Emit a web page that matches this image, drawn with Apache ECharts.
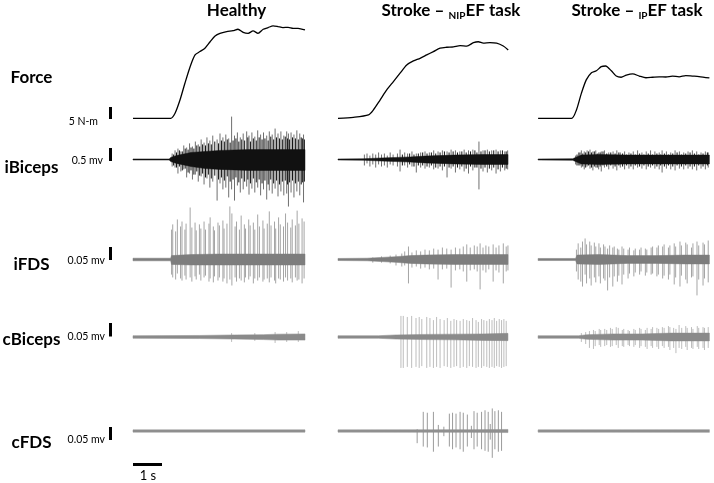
<!DOCTYPE html>
<html><head><meta charset="utf-8">
<script src="https://cdn.jsdelivr.net/npm/echarts@6/dist/echarts.min.js"></script>
<style>html,body{margin:0;padding:0;background:#fff}#c{width:714px;height:483px}</style>
</head><body><div id="c"></div>
<script>
// ---------- DATA (time in s, force in N-m, EMG in mV) ----------
const columns = ["Healthy", "Stroke – NIPEF task", "Stroke – IPEF task"];
const rowNames = ["Force", "iBiceps", "iFDS", "cBiceps", "cFDS"];
const scaleLabels = ["5 N-m", "0.5 mv", "0.05 mv", "0.05 mv", "0.05 mv"];
const timeBarLabel = "1 s";

// Force traces [t, N-m]
const forceHealthy = [[0,0],[1.3,0],[1.45,2.1],[1.62,7.6],[1.79,14.6],[1.97,21.5],[2.14,26.4],[2.31,27.8],[2.48,29.2],[2.66,31.9],[2.83,34.3],[3.0,35.4],[3.23,36.1],[3.45,36.5],[3.62,37.1],[3.8,35.8],[3.97,35.4],[4.14,36.4],[4.31,35.4],[4.49,37.1],[4.66,37.8],[4.83,38.5],[5.0,38.2],[5.17,37.8],[5.35,37.9],[5.52,37.5],[5.69,37.5],[5.93,36.8]];
const forceNIP = [[0,0],[0.53,0.4],[1.05,1.4],[1.22,3.5],[1.45,7.6],[1.68,11.8],[1.91,15.3],[2.14,18.8],[2.37,22.2],[2.6,23.9],[2.83,25.0],[3.06,26.4],[3.29,27.8],[3.52,29.2],[3.75,29.6],[3.98,29.8],[4.21,30.3],[4.44,30.1],[4.67,31.5],[4.84,31.9],[5.01,31.3],[5.24,31.5],[5.47,31.3],[5.7,30.1],[5.87,28.5]];
const forceIP = [[-0.1,0],[1.06,0],[1.23,3.5],[1.4,10.4],[1.57,16.0],[1.75,19.0],[1.92,19.8],[2.09,21.5],[2.24,21.8],[2.44,19.8],[2.61,17.6],[2.78,17.1],[2.96,18.0],[3.18,18.5],[3.41,17.6],[3.64,16.9],[3.87,17.1],[4.1,17.3],[4.33,17.2],[4.56,17.6],[4.79,17.3],[5.02,17.8],[5.25,17.6],[5.48,17.4],[5.84,16.8]];

// EMG dense-core envelopes [t, up, down] (mV)
const iBicHealthyCore = [[0,0.02,0.02],[1.25,0.02,0.02],[1.3,0.08,0.08],[1.5,0.15,0.15],[2.0,0.27,0.27],[2.5,0.31,0.35],[3.0,0.35,0.38],[4.0,0.38,0.42],[5.93,0.38,0.42]];
const iBicNIPCore = [[0,0.02,0.02],[0.9,0.03,0.03],[1.5,0.06,0.06],[2.0,0.08,0.08],[2.5,0.1,0.1],[3.0,0.13,0.13],[3.5,0.15,0.15],[4.0,0.17,0.17],[5.0,0.19,0.19],[5.86,0.19,0.19]];
const iBicIPCore = [[-0.1,0.02,0.02],[1.1,0.03,0.03],[1.2,0.08,0.08],[1.4,0.17,0.17],[2.0,0.19,0.19],[3.0,0.17,0.17],[4.0,0.17,0.17],[5.0,0.17,0.17],[5.84,0.17,0.17]];
const iFDSHealthyCore = [[0,0.005,0.005],[1.3,0.005,0.005],[1.33,0.015,0.019],[2.0,0.019,0.021],[3.0,0.021,0.021],[5.93,0.021,0.021]];
const iFDSNIPCore = [[0,0.004,0.004],[1.0,0.005,0.005],[1.5,0.008,0.008],[2.0,0.011,0.011],[2.5,0.015,0.015],[3.0,0.017,0.017],[4.0,0.019,0.019],[5.86,0.019,0.019]];
const iFDSIPCore = [[-0.1,0.004,0.004],[1.2,0.004,0.004],[1.25,0.017,0.017],[2.0,0.019,0.019],[3.0,0.015,0.015],[4.0,0.015,0.015],[5.0,0.017,0.017],[5.84,0.017,0.017]];
const cBicHealthyCore = [[0,0.005,0.005],[2.3,0.006,0.006],[3.5,0.008,0.008],[4.5,0.009,0.01],[5.0,0.011,0.012],[5.93,0.012,0.012]];
const cBicNIPCore = [[0,0.005,0.005],[1.4,0.005,0.005],[2.0,0.008,0.008],[3.0,0.01,0.01],[4.0,0.011,0.011],[5.0,0.012,0.013],[5.86,0.014,0.014]];
const cBicIPCore = [[-0.1,0.005,0.005],[1.3,0.005,0.005],[1.6,0.009,0.009],[2.5,0.012,0.012],[3.5,0.012,0.012],[4.5,0.015,0.015],[5.84,0.015,0.015]];
const cFDSHealthyCore = [[0,0.005,0.005],[5.93,0.005,0.005]];
const cFDSNIPCore = [[0,0.005,0.005],[4.5,0.006,0.006],[5.86,0.007,0.007]];
const cFDSIPCore = [[-0.1,0.005,0.005],[5.84,0.006,0.006]];

// EMG spikes [t, peak up, peak down] (mV)
const iBicHealthySpikes = [[1.35,0.23,0.27],[1.45,0.35,0.31],[1.55,0.42,0.54],[1.65,0.31,0.46],[1.75,0.54,0.38],[1.85,0.46,0.69],[1.95,0.62,0.54],[2.05,0.5,0.77],[2.15,0.69,0.58],[2.25,0.58,0.85],[2.35,0.77,0.65],[2.45,0.65,0.96],[2.55,0.85,0.73],[2.65,0.73,1.08],[2.75,0.92,0.85],[2.9,0.77,1.58],[3.0,1.0,0.92],[3.1,0.85,1.15],[3.2,0.96,1.08],[3.3,0.81,1.46],[3.4,1.65,1.15],[3.5,0.92,1.58],[3.6,1.04,1.0],[3.7,0.85,1.27],[3.8,1.0,1.15],[3.92,1.08,1.04],[4.0,0.92,1.35],[4.1,1.04,1.12],[4.2,0.88,1.27],[4.3,1.12,1.08],[4.4,0.96,1.38],[4.5,1.04,1.15],[4.61,0.92,1.54],[4.7,1.08,1.19],[4.8,0.96,1.31],[4.9,1.19,1.12],[5.0,1.0,1.42],[5.1,1.08,1.23],[5.2,0.92,1.38],[5.3,1.08,1.31],[5.36,1.0,1.81],[5.45,1.04,1.27],[5.55,0.96,1.46],[5.65,1.12,1.23],[5.75,1.0,1.38],[5.88,0.96,1.65]];
const iBicHealthyTexture = [[1.4,0.19,0.23],[1.5,0.27,0.31],[1.6,0.35,0.27],[1.7,0.31,0.42],[1.8,0.42,0.35],[1.9,0.38,0.5],[2.0,0.46,0.42],[2.1,0.42,0.58],[2.2,0.54,0.46],[2.3,0.5,0.62],[2.4,0.58,0.54],[2.5,0.54,0.69],[2.6,0.62,0.58],[2.7,0.58,0.73],[2.82,0.69,0.62],[2.95,0.62,0.77],[3.05,0.73,0.69],[3.15,0.69,0.81],[3.25,0.77,0.65],[3.35,0.65,0.85],[3.45,0.73,0.77],[3.55,0.81,0.69],[3.65,0.69,0.88],[3.75,0.77,0.73],[3.85,0.73,0.85],[3.96,0.85,0.77],[4.05,0.69,0.92],[4.15,0.81,0.73],[4.25,0.73,0.88],[4.35,0.85,0.77],[4.45,0.77,0.92],[4.55,0.81,0.81],[4.66,0.73,0.96],[4.75,0.88,0.77],[4.85,0.77,0.92],[4.95,0.85,0.81],[5.05,0.81,0.96],[5.15,0.77,0.85],[5.25,0.88,0.81],[5.33,0.81,0.96],[5.4,0.77,0.88],[5.5,0.85,0.81],[5.6,0.81,0.92],[5.7,0.77,0.85],[5.8,0.85,0.96],[5.84,0.81,0.88],[5.91,0.77,0.85]];
const iBicNIPSpikes = [[0.91,0.19,0.23],[1.0,0.23,0.15],[1.1,0.15,0.27],[1.2,0.23,0.19],[1.3,0.19,0.31],[1.4,0.27,0.19],[1.5,0.19,0.27],[1.6,0.23,0.23],[1.7,0.15,0.31],[1.8,0.27,0.19],[1.9,0.19,0.23],[2.05,0.23,0.27],[2.14,0.38,0.46],[2.3,0.27,0.23],[2.4,0.23,0.31],[2.55,0.31,0.27],[2.7,0.23,0.5],[2.85,0.27,0.31],[3.0,0.31,0.35],[3.15,0.27,0.31],[3.3,0.35,0.38],[3.45,0.31,0.35],[3.6,0.35,0.42],[3.76,0.31,0.69],[3.9,0.38,0.35],[4.05,0.35,0.5],[4.2,0.31,0.38],[4.35,0.38,0.46],[4.5,0.35,0.54],[4.65,0.38,0.42],[4.86,0.69,1.15],[5.0,0.35,0.46],[5.15,0.38,0.5],[5.3,0.35,0.42],[5.45,0.38,0.54],[5.6,0.35,0.46],[5.75,0.31,0.42],[5.85,0.35,0.38]];
const iBicNIPTexture = [[2.22,0.19,0.23],[2.47,0.23,0.19],[2.62,0.19,0.27],[2.77,0.23,0.23],[2.92,0.27,0.23],[3.07,0.23,0.27],[3.22,0.27,0.23],[3.37,0.23,0.31],[3.52,0.27,0.27],[3.67,0.31,0.27],[3.83,0.27,0.31],[3.97,0.31,0.27],[4.12,0.27,0.31],[4.27,0.31,0.27],[4.42,0.27,0.35],[4.57,0.31,0.27],[4.72,0.35,0.31],[4.79,0.27,0.31],[4.93,0.31,0.35],[5.07,0.35,0.31],[5.22,0.31,0.35],[5.37,0.35,0.31],[5.52,0.31,0.38],[5.67,0.35,0.31],[5.8,0.31,0.35]];
const iBicIPSpikes = [[1.2,0.15,0.19],[1.3,0.27,0.23],[1.4,0.35,0.31],[1.5,0.31,0.38],[1.6,0.35,0.27],[1.7,0.38,0.35],[1.8,0.31,0.42],[1.9,0.35,0.31],[2.0,0.27,0.38],[2.09,0.31,0.46],[2.2,0.35,0.31],[2.35,0.27,0.38],[2.5,0.31,0.35],[2.63,0.35,0.42],[2.75,0.27,0.31],[2.9,0.31,0.38],[3.05,0.27,0.35],[3.2,0.31,0.38],[3.35,0.35,0.31],[3.5,0.27,0.35],[3.65,0.31,0.38],[3.8,0.35,0.31],[3.95,0.31,0.35],[4.1,0.27,0.38],[4.2,0.35,0.5],[4.35,0.31,0.35],[4.5,0.27,0.38],[4.65,0.35,0.42],[4.8,0.31,0.35],[4.95,0.27,0.38],[5.1,0.31,0.35],[5.25,0.35,0.38],[5.4,0.31,0.42],[5.55,0.27,0.35],[5.7,0.31,0.38],[5.8,0.27,0.31]];
const iBicIPTexture = [[1.25,0.19,0.23],[1.35,0.27,0.23],[1.45,0.23,0.27],[1.55,0.27,0.31],[1.65,0.31,0.23],[1.75,0.27,0.31],[1.85,0.31,0.27],[1.95,0.23,0.31],[2.05,0.27,0.27],[2.15,0.31,0.23],[2.28,0.23,0.27],[2.42,0.27,0.23],[2.57,0.23,0.27],[2.7,0.27,0.23],[2.83,0.23,0.27],[2.97,0.19,0.23],[3.12,0.23,0.27],[3.27,0.19,0.23],[3.42,0.23,0.27],[3.57,0.19,0.23],[3.72,0.23,0.27],[3.87,0.19,0.23],[4.02,0.23,0.27],[4.15,0.19,0.23],[4.28,0.23,0.27],[4.42,0.19,0.23],[4.57,0.23,0.27],[4.72,0.27,0.23],[4.87,0.19,0.27],[5.02,0.23,0.23],[5.17,0.27,0.27],[5.32,0.23,0.27],[5.47,0.19,0.23],[5.62,0.23,0.27],[5.77,0.27,0.23]];
const iFDSHealthySpikes = [[1.33,0.115,0.058],[1.37,0.135,0.069],[1.47,0.108,0.077],[1.53,0.154,0.054],[1.64,0.127,0.073],[1.69,0.146,0.081],[1.79,0.115,0.062],[1.83,0.138,0.077],[1.97,0.2,0.069],[2.03,0.123,0.085],[2.14,0.142,0.065],[2.18,0.112,0.077],[2.29,0.135,0.058],[2.34,0.119,0.081],[2.45,0.146,0.069],[2.5,0.115,0.062],[2.62,0.138,0.085],[2.66,0.162,0.073],[2.77,0.127,0.088],[2.81,0.112,0.065],[2.93,0.142,0.081],[2.98,0.131,0.069],[3.1,0.15,0.085],[3.14,0.119,0.073],[3.24,0.138,0.092],[3.34,0.204,0.077],[3.41,0.177,0.1],[3.52,0.127,0.069],[3.57,0.146,0.085],[3.67,0.115,0.073],[3.73,0.169,0.081],[3.84,0.135,0.088],[3.88,0.119,0.069],[3.99,0.154,0.077],[4.04,0.131,0.065],[4.15,0.142,0.092],[4.2,0.115,0.073],[4.3,0.173,0.081],[4.36,0.127,0.069],[4.48,0.15,0.085],[4.52,0.119,0.077],[4.63,0.138,0.073],[4.7,0.185,0.088],[4.76,0.131,0.069],[4.88,0.146,0.081],[4.92,0.119,0.092],[5.02,0.162,0.073],[5.08,0.135,0.077],[5.19,0.127,0.085],[5.26,0.177,0.069],[5.33,0.142,0.081],[5.44,0.123,0.073],[5.49,0.154,0.088],[5.6,0.131,0.069],[5.66,0.188,0.081],[5.72,0.138,0.077],[5.83,0.158,0.092],[5.9,0.146,0.073]];
const iFDSNIPSpikes = [[1.2,0.008,0.012],[1.5,0.012,0.012],[1.8,0.015,0.015],[2.0,0.019,0.023],[2.2,0.023,0.027],[2.3,0.031,0.023],[2.43,0.05,0.092],[2.55,0.027,0.031],[2.7,0.035,0.027],[2.85,0.031,0.035],[3.0,0.038,0.031],[3.15,0.035,0.038],[3.3,0.042,0.035],[3.45,0.038,0.077],[3.6,0.046,0.038],[3.75,0.042,0.035],[3.9,0.038,0.108],[4.05,0.046,0.042],[4.2,0.042,0.038],[4.32,0.05,0.046],[4.44,0.058,0.085],[4.56,0.046,0.042],[4.7,0.054,0.038],[4.8,0.05,0.046],[4.9,0.062,0.115],[5.0,0.046,0.042],[5.1,0.054,0.05],[5.2,0.05,0.038],[5.35,0.058,0.085],[5.45,0.046,0.042],[5.55,0.054,0.05],[5.7,0.062,0.092],[5.8,0.05,0.046],[5.86,0.054,0.042]];
const iFDSIPSpikes = [[1.23,0.038,0.046],[1.29,0.062,0.077],[1.38,0.046,0.085],[1.44,0.069,0.104],[1.53,0.081,0.058],[1.58,0.058,0.092],[1.69,0.069,0.073],[1.74,0.054,0.1],[1.85,0.065,0.069],[1.9,0.05,0.088],[2.01,0.062,0.065],[2.06,0.046,0.092],[2.17,0.058,0.073],[2.22,0.05,0.081],[2.31,0.042,0.119],[2.38,0.054,0.069],[2.49,0.046,0.104],[2.54,0.05,0.065],[2.65,0.042,0.085],[2.7,0.038,0.062],[2.81,0.05,0.096],[2.87,0.042,0.058],[3.02,0.038,0.073],[3.07,0.046,0.054],[3.22,0.035,0.065],[3.27,0.042,0.05],[3.42,0.038,0.058],[3.47,0.046,0.046],[3.62,0.042,0.062],[3.67,0.038,0.05],[3.82,0.046,0.058],[3.87,0.05,0.054],[4.02,0.046,0.065],[4.07,0.054,0.058],[4.22,0.05,0.073],[4.27,0.058,0.062],[4.42,0.046,0.077],[4.47,0.054,0.058],[4.62,0.062,0.096],[4.67,0.05,0.069],[4.82,0.069,0.104],[4.87,0.054,0.062],[5.02,0.065,0.077],[5.07,0.058,0.092],[5.22,0.046,0.069],[5.27,0.062,0.065],[5.41,0.069,0.138],[5.47,0.054,0.077],[5.62,0.065,0.1],[5.67,0.058,0.073],[5.8,0.073,0.088]];
const cBicHealthySpikes = [[3.4,0.015,0.019],[4.2,0.015,0.015],[4.9,0.019,0.023],[5.3,0.019,0.019],[5.7,0.023,0.019]];
const cBicNIPSpikes = [[2.17,0.081,0.119],[2.25,0.081,0.119],[2.39,0.077,0.115],[2.54,0.081,0.119],[2.69,0.073,0.115],[2.8,0.077,0.119],[2.89,0.069,0.112],[3.06,0.077,0.119],[3.17,0.073,0.115],[3.29,0.065,0.119],[3.4,0.077,0.115],[3.52,0.069,0.119],[3.66,0.065,0.112],[3.77,0.073,0.115],[3.89,0.062,0.119],[4.0,0.069,0.115],[4.09,0.065,0.112],[4.21,0.062,0.119],[4.32,0.069,0.115],[4.44,0.065,0.119],[4.53,0.062,0.112],[4.64,0.073,0.115],[4.76,0.065,0.119],[4.84,0.058,0.115],[4.95,0.069,0.119],[5.03,0.065,0.112],[5.13,0.062,0.115],[5.22,0.069,0.119],[5.31,0.065,0.115],[5.39,0.073,0.119],[5.47,0.062,0.112],[5.56,0.069,0.115],[5.64,0.065,0.119],[5.72,0.069,0.115],[5.8,0.062,0.112]];
const cBicIPSpikes = [[1.4,0.015,0.019],[1.55,0.019,0.027],[1.68,0.023,0.042],[1.82,0.027,0.046],[1.88,0.023,0.035],[2.02,0.031,0.031],[2.07,0.027,0.038],[2.21,0.031,0.035],[2.28,0.027,0.031],[2.41,0.035,0.038],[2.47,0.031,0.035],[2.61,0.038,0.031],[2.68,0.035,0.042],[2.82,0.027,0.035],[2.87,0.031,0.038],[3.02,0.027,0.031],[3.07,0.023,0.035],[3.22,0.031,0.038],[3.27,0.027,0.031],[3.42,0.035,0.042],[3.47,0.031,0.035],[3.62,0.027,0.038],[3.68,0.035,0.046],[3.82,0.031,0.035],[3.87,0.038,0.042],[4.02,0.035,0.038],[4.08,0.031,0.046],[4.21,0.038,0.035],[4.27,0.035,0.042],[4.42,0.042,0.038],[4.47,0.038,0.05],[4.6,0.035,0.042],[4.68,0.031,0.062],[4.79,0.046,0.042],[4.88,0.035,0.046],[5.02,0.042,0.038],[5.07,0.035,0.05],[5.22,0.038,0.042],[5.27,0.031,0.046],[5.42,0.042,0.038],[5.47,0.035,0.046],[5.62,0.038,0.042],[5.67,0.035,0.05],[5.8,0.038,0.042]];
const cFDSHealthySpikes = [];
const cFDSNIPSpikes = [[2.73,0.008,0.054],[2.94,0.085,0.069],[3.08,0.081,0.073],[3.29,0.085,0.092],[3.46,0.027,0.069],[3.65,0.019,0.023],[3.84,0.077,0.069],[3.95,0.081,0.081],[4.07,0.077,0.073],[4.21,0.085,0.081],[4.32,0.081,0.092],[4.46,0.073,0.069],[4.6,0.023,0.031],[4.69,0.088,0.081],[4.8,0.081,0.069],[4.95,0.085,0.081],[5.07,0.092,0.088],[5.18,0.085,0.092],[5.25,0.031,0.038],[5.32,0.1,0.119],[5.41,0.088,0.081],[5.53,0.092,0.092],[5.64,0.085,0.088]];
const cFDSIPSpikes = [];

// ---------- LAYOUT / STYLE ----------
const PX_PER_S = 29;
const colOrigin = [133, 338, 541];
const colMin = [0, 0, -0.1];
const colMax = 6;
const forceTop = 22.3, forceH = 96, forceMax = 40;      // 2.4 px per N-m
const emgCenter = [159.5, 259.5, 337, 439];
const emgPxPerMv = [26, 260, 260, 260];
const emgHalf = 60;
const emgStyle = [
  {core: '#111111', spike: 'rgba(95,95,95,0.9)', tex: '#151515'},
  {core: '#7d7d7d', spike: 'rgba(160,160,160,0.95)', tex: '#888888'},
  {core: '#8a8a8a', spike: 'rgba(185,185,185,0.95)', tex: '#8a8a8a'},
  {core: '#8f8f8f', spike: 'rgba(150,150,150,0.95)', tex: '#8f8f8f'}
];
const forceData = [forceHealthy, forceNIP, forceIP];
const coreData = [
  [iBicHealthyCore, iFDSHealthyCore, cBicHealthyCore, cFDSHealthyCore],
  [iBicNIPCore, iFDSNIPCore, cBicNIPCore, cFDSNIPCore],
  [iBicIPCore, iFDSIPCore, cBicIPCore, cFDSIPCore]
];
const spikeData = [
  [iBicHealthySpikes, iFDSHealthySpikes, cBicHealthySpikes, cFDSHealthySpikes],
  [iBicNIPSpikes, iFDSNIPSpikes, cBicNIPSpikes, cFDSNIPSpikes],
  [iBicIPSpikes, iFDSIPSpikes, cBicIPSpikes, cFDSIPSpikes]
];
const textureData = [
  [iBicHealthyTexture, [], [], []],
  [iBicNIPTexture, [], [], []],
  [iBicIPTexture, [], [], []]
];

function spikeSeries(g, data, color, width) {
  return {type: 'custom', xAxisIndex: g, yAxisIndex: g, data: data, silent: true,
    encode: {x: 0, y: 1},
    renderItem: function (params, api) {
      const t = api.value(0);
      const a = api.coord([t, api.value(1)]);
      const b = api.coord([t, -api.value(2)]);
      return {type: 'line', shape: {x1: a[0], y1: a[1], x2: b[0], y2: b[1]},
        style: {stroke: color, lineWidth: width}};
    }};
}
function bandSeries(g, core, color) {
  return {type: 'custom', xAxisIndex: g, yAxisIndex: g, data: core, silent: true,
    encode: {x: 0, y: 1},
    renderItem: function (params, api) {
      if (params.dataIndex !== 0) return null;
      const pts = [];
      core.forEach(d => pts.push(api.coord([d[0], d[1]])));
      for (let i = core.length - 1; i >= 0; i--) pts.push(api.coord([core[i][0], -core[i][2]]));
      return {type: 'polygon', shape: {points: pts}, style: {fill: color, stroke: color, lineWidth: 0.5}};
    }};
}

const grid = [], xAxis = [], yAxis = [], series = [];
for (let c = 0; c < 3; c++) {
  const left = colOrigin[c] + colMin[c] * PX_PER_S;
  const width = (colMax - colMin[c]) * PX_PER_S;
  for (let r = 0; r < 5; r++) {
    const g = grid.length;
    let top, height, ymin, ymax;
    if (r === 0) { top = forceTop; height = forceH; ymin = 0; ymax = forceMax; }
    else {
      top = emgCenter[r-1] - emgHalf; height = 2 * emgHalf;
      ymax = emgHalf / emgPxPerMv[r-1]; ymin = -ymax;
    }
    grid.push({left: left, top: top, width: width, height: height, containLabel: false});
    xAxis.push({type: 'value', gridIndex: g, min: colMin[c], max: colMax, show: false});
    yAxis.push({type: 'value', gridIndex: g, min: ymin, max: ymax, show: false});
    if (r === 0) {
      series.push({type: 'line', xAxisIndex: g, yAxisIndex: g, data: forceData[c], showSymbol: false,
        smooth: 0.25, lineStyle: {color: '#000', width: 1.3}, silent: true});
    } else {
      const st = emgStyle[r-1];
      series.push(spikeSeries(g, spikeData[c][r-1], st.spike, 1));
      series.push(spikeSeries(g, textureData[c][r-1], st.tex, 1));
      series.push(bandSeries(g, coreData[c][r-1], st.core));
    }
  }
}

const FONT = 'Lato, "Open Sans", sans-serif';
const graphic = [];
const titleX = [236.5, 451, 637];
graphic.push({type: 'text', x: titleX[0], y: 11, style: {text: columns[0], font: 'bold 17px ' + FONT, fill: '#000', align: 'center', verticalAlign: 'middle'}});
const rich = {a: {fontSize: 17, fontWeight: 'bold', fontFamily: FONT, lineHeight: 20, fill: '#000'},
              s: {fontSize: 10, fontWeight: 'bold', fontFamily: FONT, lineHeight: 12, verticalAlign: 'bottom', fill: '#000'}};
graphic.push({type: 'text', x: titleX[1], y: 11, style: {text: '{a|Stroke – }{s|NIP}{a|EF task}', rich: rich, align: 'center', verticalAlign: 'middle'}});
graphic.push({type: 'text', x: titleX[2], y: 11, style: {text: '{a|Stroke – }{s|IP}{a|EF task}', rich: rich, align: 'center', verticalAlign: 'middle'}});
const rowLabelY = [77.5, 168, 264.5, 340, 443];
rowNames.forEach((n, i) => graphic.push({type: 'text', x: 31.5, y: rowLabelY[i],
  style: {text: n, font: 'bold 17px ' + FONT, fill: '#000', align: 'center', verticalAlign: 'middle'}}));
const barTop = [107, 148, 247, 323, 427];
const barH = [12, 13, 13, 13.5, 13];
const scaleLabelX = [98, 103, 105, 105, 105];
const scaleLabelY = [122, 161, 260.5, 337, 440];
for (let i = 0; i < 5; i++) {
  graphic.push({type: 'rect', shape: {x: 109, y: barTop[i], width: 3, height: barH[i]}, style: {fill: '#000'}});
  graphic.push({type: 'text', x: scaleLabelX[i], y: scaleLabelY[i],
    style: {text: scaleLabels[i], font: '10.5px ' + FONT, fill: '#000', align: 'right', verticalAlign: 'middle'}});
}
graphic.push({type: 'rect', shape: {x: 133, y: 463, width: PX_PER_S, height: 3}, style: {fill: '#000'}});
graphic.push({type: 'text', x: 148, y: 476, style: {text: timeBarLabel, font: '13px ' + FONT, fill: '#000', align: 'center', verticalAlign: 'middle'}});

const chart = echarts.init(document.getElementById('c'), null, {renderer: 'canvas'});
chart.setOption({animation: false, backgroundColor: '#fff', grid, xAxis, yAxis, series, graphic});
</script></body></html>
